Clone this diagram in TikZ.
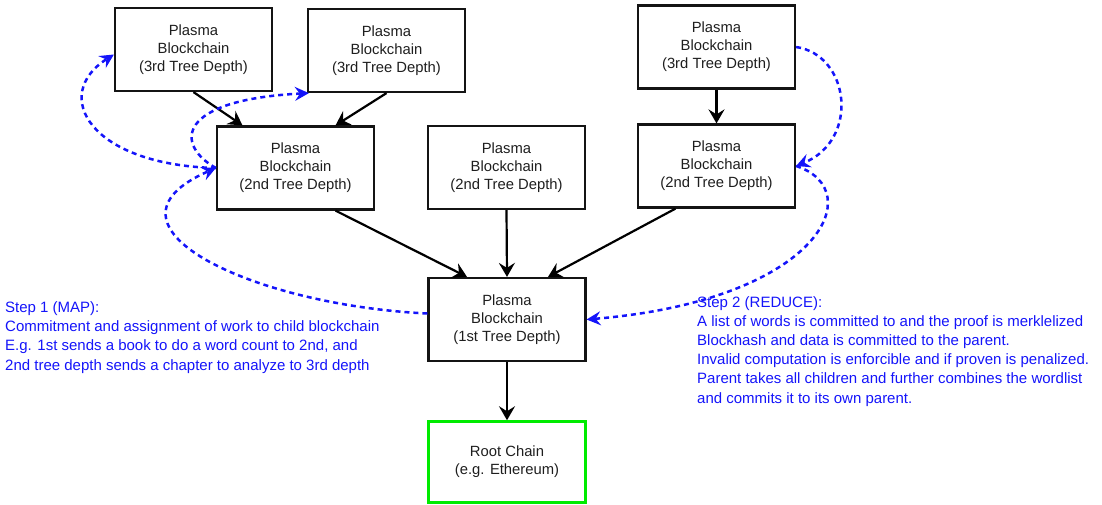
\documentclass[tikz,border=0pt]{standalone}
\usepackage{fontspec}
\setmainfont{Liberation Sans}
\usetikzlibrary{arrows.meta}
\definecolor{dblue}{RGB}{20,20,250}
\definecolor{boxline}{RGB}{20,20,20}
\definecolor{boxtext}{RGB}{30,30,30}
\definecolor{rootgreen}{RGB}{0,235,0}
\begin{document}
\begin{tikzpicture}[x=1pt,y=-1pt,
  box/.style={draw=boxline, line width=2.2pt, minimum width=157pt, minimum height=83pt,
    inner sep=0pt, align=center, text=boxtext, font=\fontsize{14.8}{18}\selectfont},
  arr/.style={draw=black, line width=2.2pt, -{Stealth[length=14pt,width=16pt,inset=5pt]}},
  darr/.style={draw=dblue, line width=2.5pt, dash pattern=on 5pt off 4pt,
    -{Stealth[length=14pt,width=14pt,inset=5pt]}},
  note/.style={text=dblue, align=left, inner sep=0pt, anchor=north west,
    font=\fontsize{15}{19.2}\selectfont}]
\useasboundingbox (0,0) rectangle (1102,504);

\node[box] (A3) at (193.5,49.5) {Plasma\\Blockchain\\(3rd Tree Depth)};
\node[box] (B3) at (386.5,50.5) {Plasma\\Blockchain\\(3rd Tree Depth)};
\node[box] (C3) at (716.5,47) {Plasma\\Blockchain\\(3rd Tree Depth)};
\node[box] (L2) at (295.5,168) {Plasma\\Blockchain\\(2nd Tree Depth)};
\node[box] (M2) at (506.5,167.5) {Plasma\\Blockchain\\(2nd Tree Depth)};
\node[box] (R2) at (716.5,166) {Plasma\\Blockchain\\(2nd Tree Depth)};
\node[box] (T1) at (507,319.5) {Plasma\\Blockchain\\(1st Tree Depth)};
\node[box, draw=rootgreen, line width=2.5pt, minimum height=81pt] (RC) at (507,462) {Root Chain\\(e.g. Ethereum)};

\draw[arr] (A3.south) -- ([xshift=-53pt]L2.north);
\draw[arr] (B3.south) -- ([xshift=40pt]L2.north);
\draw[arr] (C3.south) -- (R2.north);
\draw[arr] ([xshift=40pt]L2.south) -- ([xshift=-40pt]T1.north);
\draw[arr] (M2.south) -- (T1.north);
\draw[arr] ([xshift=-41pt]R2.south) -- ([xshift=41pt]T1.north);
\draw[arr] (T1.south) -- (RC.north);

\draw[darr] ([yshift=6pt]T1.west) .. controls (250,305) and (85,225) .. (L2.west);
\draw[darr] (L2.west) .. controls (90,165) and (50,95) .. ([yshift=-5pt]A3.west);
\draw[darr] (L2.west) .. controls (175,145) and (175,100) .. ([xshift=2pt]B3.south west);
\draw[darr] (C3.east) .. controls (850,55) and (860,140) .. (R2.east);
\draw[darr] (R2.east) .. controls (870,190) and (820,300) .. (T1.east);

\node[note] (S1) at (5,301.5) {Step 1 (MAP):\\
Commitment and assignment of work to child blockchain\\
E.g. 1st sends a book to do a word count to 2nd, and\\
2nd tree depth sends a chapter to analyze to 3rd depth};
\node[note] (S2) at (697,296) {Step 2 (REDUCE):\\
A list of words is committed to and the proof is merklelized\\
Blockhash and data is committed to the parent.\\
Invalid computation is enforcible and if proven is penalized.\\
Parent takes all children and further combines the wordlist\\
and commits it to its own parent.};
\end{tikzpicture}
\end{document}
